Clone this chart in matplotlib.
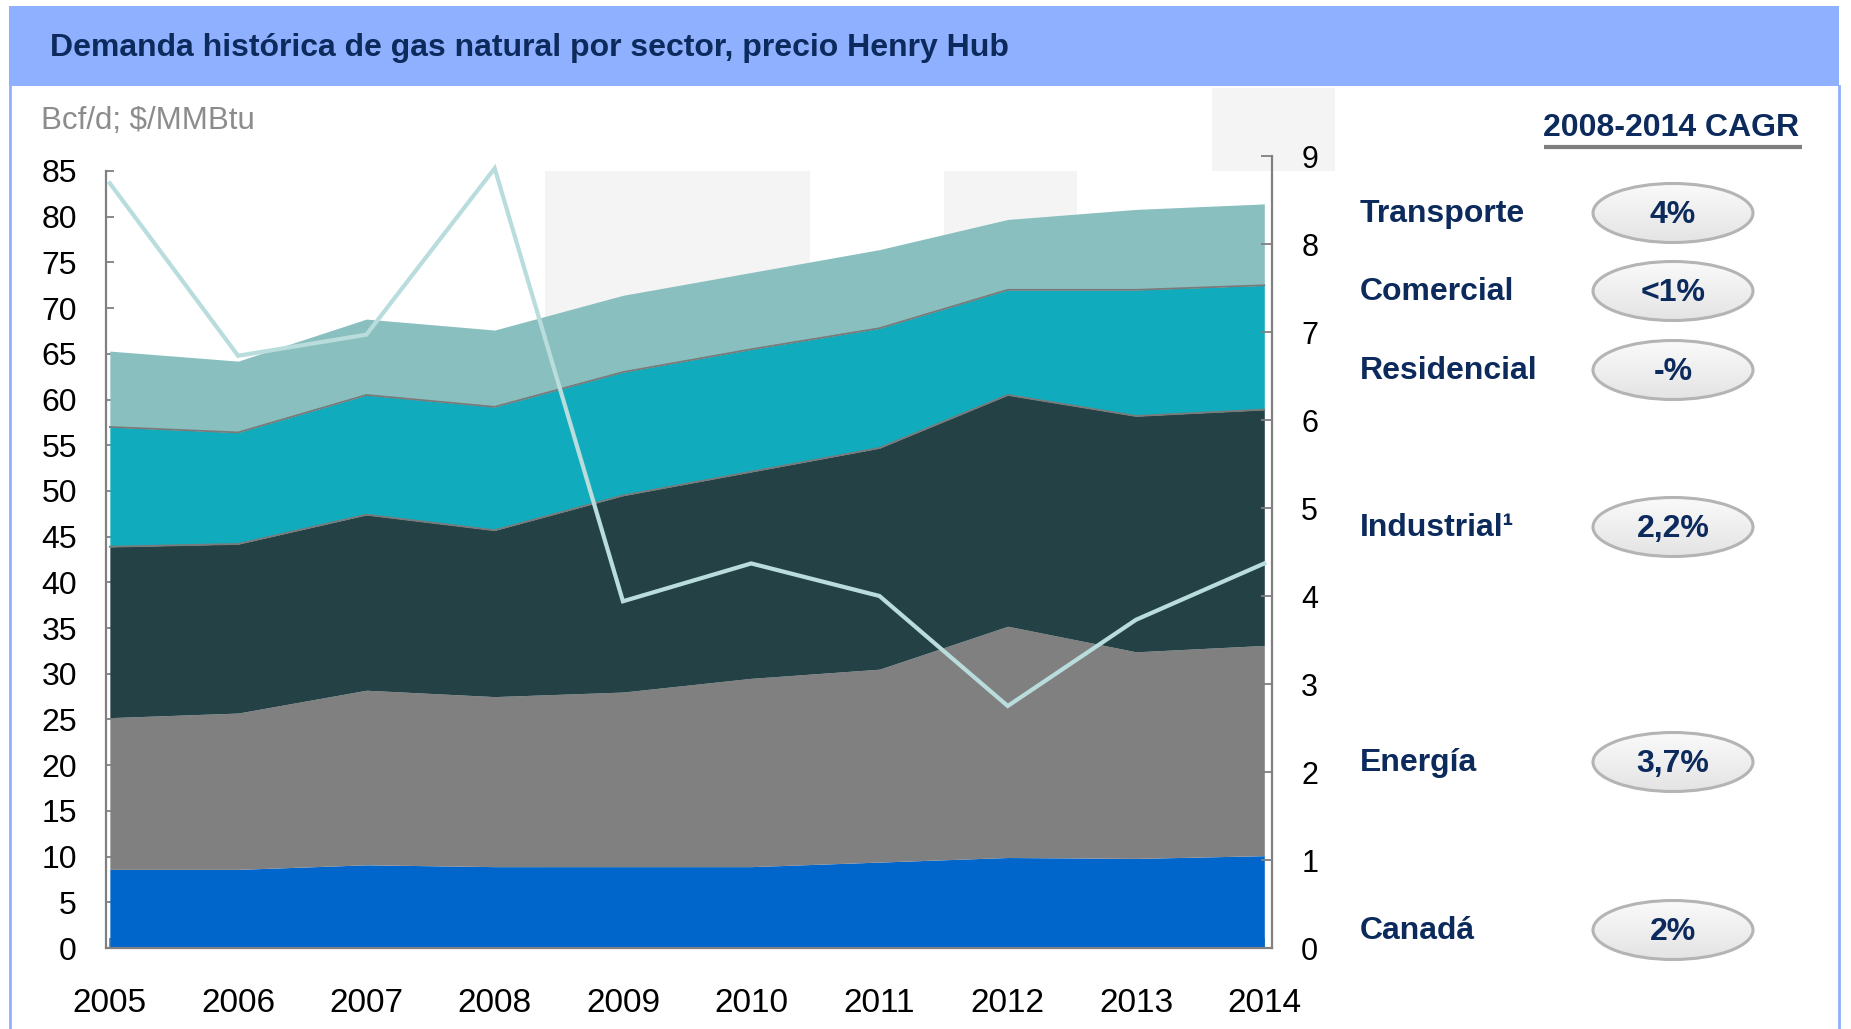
import numpy as np
import matplotlib
matplotlib.use("Agg")
import matplotlib.pyplot as plt
from matplotlib.patches import Rectangle, Ellipse

plt.rcParams['font.family'] = ['Liberation Sans', 'DejaVu Sans']

# ---------------- data ----------------
years = [2005, 2006, 2007, 2008, 2009, 2010, 2011, 2012, 2013, 2014]
canada      = [8.6, 8.6, 9.1, 8.9, 8.9, 8.9, 9.4, 9.9, 9.8, 10.1]
energia     = [16.6, 17.1, 19.1, 18.6, 19.1, 20.6, 21.1, 25.3, 22.6, 23.0]
industrial  = [18.7, 18.5, 19.2, 18.2, 21.5, 22.6, 24.2, 25.3, 25.8, 25.8]
residencial = [13.1, 12.2, 13.1, 13.5, 13.5, 13.4, 13.1, 11.5, 13.8, 13.6]
comercial   = [8.3, 7.8, 8.3, 8.4, 8.4, 8.4, 8.6, 7.7, 8.8, 8.9]
henry_hub   = [8.69, 6.73, 6.97, 8.86, 3.94, 4.37, 4.00, 2.75, 3.73, 4.37]

left_ticks = list(range(0, 90, 5))
right_ticks = list(range(0, 10))

cagr_labels = ["Transporte", "Comercial", "Residencial", "Industrial\u00b9", "Energía", "Canadá"]
cagr_values = ["4%", "<1%", "-%", "2,2%", "3,7%", "2%"]

title = "Demanda histórica de gas natural por sector, precio Henry Hub"
unit_label = "Bcf/d; $/MMBtu"
cagr_title = "2008-2014 CAGR"

layers = [canada, energia, industrial, residencial, comercial]
layer_colors = ["#0066cc", "#808080", "#244246", "#10abbd", "#8abfc0"]

NAVY = "#0c2a5c"
W, H = 1851, 1029

fig = plt.figure(figsize=(W / 100, H / 100), dpi=100)

# background / decoration layer in pixel coordinates
bg = fig.add_axes([0, 0, 1, 1], zorder=0)
bg.set_xlim(0, W)
bg.set_ylim(H, 0)
bg.axis("off")

# title band and frame
bg.add_patch(Rectangle((9, 6), 1830, 80, facecolor="#8fb0ff", edgecolor="none"))
bg.plot([10, 10], [86, H], color="#8fb0ff", lw=2)
bg.plot([1839, 1839], [86, H], color="#8fb0ff", lw=2)
bg.text(50, 48, title, fontsize=23, fontweight="bold", color=NAVY, va="center", ha="left")
bg.text(41, 121, unit_label, fontsize=22.5, color="#8c8c8c", va="center", ha="left")

# faint background blocks
for (x0, y0, w, h) in [(545, 171, 265, 777), (944, 171, 133, 777), (1212, 88, 123, 83)]:
    bg.add_patch(Rectangle((x0, y0), w, h, facecolor="#f4f4f4", edgecolor="none"))

# ---------------- chart ----------------
axl, axr, axt, axb = 106, 1272, 156, 948
ax = fig.add_axes([axl / W, 1 - axb / H, (axr - axl) / W, (axb - axt) / H], zorder=1)
ax.patch.set_visible(False)

x = np.array(years, dtype=float)
cum = np.cumsum(np.array(layers), axis=0)
base = np.zeros_like(x)
for i, (top, col) in enumerate(zip(cum, layer_colors)):
    ax.fill_between(x, base, top, color=col, linewidth=0, zorder=2)
    base = top
# boundary lines on top of industrial and residential
for idx in (2, 3):
    ax.plot(x, cum[idx], color="#7a7a7a", lw=1.3, zorder=3)

ax.set_xlim(2004.97, 2014.06)
ax.set_ylim(0, 85 * (axb - axt) / (axb - 171))
ax.set_yticks(left_ticks)
ax.set_xticks(years)
ax.set_xticklabels([str(y) for y in years])
for s in ("top", "right"):
    ax.spines[s].set_visible(False)
ax.spines["left"].set_bounds(0, 85)
for s in ("left", "bottom"):
    ax.spines[s].set_color("#808080")
    ax.spines[s].set_linewidth(1.6)
ax.tick_params(axis="y", direction="in", length=6, width=1.3, color="#808080",
               labelsize=23, pad=21, labelcolor="black")
ax.tick_params(axis="x", direction="in", length=7, width=1.3, color="#808080",
               labelsize=24, pad=29, labelcolor="black")

ax2 = ax.twinx()
ax2.set_zorder(2)
ax2.patch.set_visible(False)
ax2.plot(x, henry_hub, color="#b9dcdc", lw=3.0, solid_joinstyle="miter", zorder=4)
ax2.set_ylim(0, 9)
ax2.set_yticks(right_ticks)
for s in ("top", "left", "bottom"):
    ax2.spines[s].set_visible(False)
ax2.spines["right"].set_color("#808080")
ax2.spines["right"].set_linewidth(1.6)
ax2.tick_params(axis="y", direction="in", length=8, width=1.3, color="#808080",
                labelsize=22, pad=21, labelcolor="black")

# ---------------- CAGR panel ----------------
bg.text(1671, 128, cagr_title, fontsize=23, fontweight="bold", color=NAVY, ha="center", va="center")
bg.plot([1544, 1802], [147, 147], color="#7f7f7f", lw=3, solid_capstyle="butt")

label_y = [213, 291, 370, 527, 762, 930]
grad = np.linspace(0, 1, 64).reshape(-1, 1)
cmap = matplotlib.colors.LinearSegmentedColormap.from_list("g", ["#fafafa", "#e4e4e4"])
for lab, val, yy in zip(cagr_labels, cagr_values, label_y):
    bg.text(1360, yy + 1, lab, fontsize=23, fontweight="bold", color=NAVY, ha="left", va="center")
    cx, w, h = 1673, 160, 59
    ell = Ellipse((cx, yy), w, h, facecolor="none", edgecolor="#b4b4b4", lw=2.2, zorder=3)
    bg.add_patch(ell)
    im = bg.imshow(grad, extent=(cx - w / 2, cx + w / 2, yy + h / 2, yy - h / 2),
                   cmap=cmap, aspect="auto", zorder=2, interpolation="bilinear")
    clip = Ellipse((cx, yy), w, h, transform=bg.transData)
    im.set_clip_path(clip)
    bg.text(cx, yy + 2, val, fontsize=23, fontweight="bold", color=NAVY, ha="center", va="center", zorder=4)

bg.set_xlim(0, W)
bg.set_ylim(H, 0)

fig.savefig("out.png", dpi=100)
